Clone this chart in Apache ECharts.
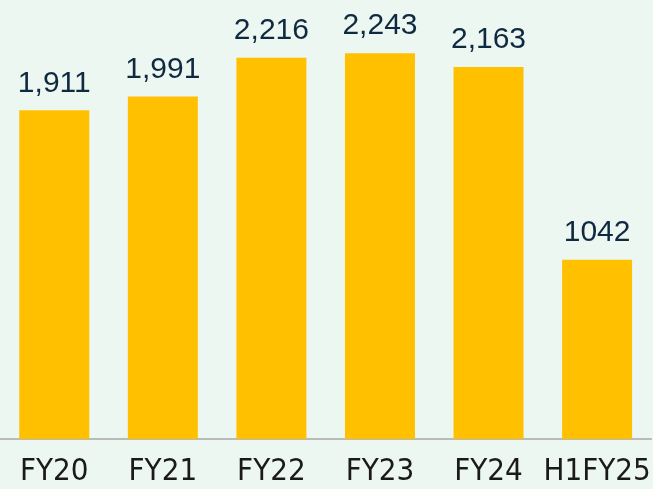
<!DOCTYPE html>
<html>
<head>
<meta charset="utf-8">
<script src="https://cdn.jsdelivr.net/npm/echarts@6/dist/echarts.min.js"></script>
<style>
  html, body { margin: 0; padding: 0; }
  #chart { width: 653px; height: 489px; }
</style>
</head>
<body>
<div id="chart"></div>
<script>
// chart data
var years = ['FY20', 'FY21', 'FY22', 'FY23', 'FY24', 'H1FY25'];
var values = [1911, 1991, 2216, 2243, 2163, 1042];
// labels as printed on the slide (last one has no comma)
var valueLabels = ['1,911', '1,991', '2,216', '2,243', '2,163', '1042'];

var myChart = echarts.init(document.getElementById('chart'));

var option = {
    backgroundColor: '#edf7f1',
    animation: false,
    grid: {
        left: -1.5,
        right: -5.5,
        top: 9,
        bottom: 50
    },
    xAxis: {
        type: 'category',
        data: years,
        axisTick: { show: false },
        axisLine: {
            show: true,
            lineStyle: { color: '#a8a8a8', width: 1.5 }
        },
        axisLabel: {
            interval: 0,
            color: '#1a1a1a',
            fontFamily: "'Liberation Sans Narrow', 'DejaVu Sans Condensed', 'Liberation Sans', sans-serif",
            fontSize: 31,
            margin: 17
        }
    },
    yAxis: {
        type: 'value',
        min: 0,
        max: 2500,
        show: false,
        splitLine: { show: false }
    },
    series: [{
        name: 'value',
        type: 'bar',
        data: values,
        barWidth: 70,
        itemStyle: { color: '#ffc000' },
        label: {
            show: true,
            position: 'top',
            distance: 12,
            color: '#0f2a40',
            fontFamily: "'Liberation Sans', sans-serif",
            fontSize: 30,
            formatter: function (p) {
                return valueLabels[p.dataIndex];
            }
        }
    }]
};

myChart.setOption(option);
</script>
</body>
</html>
